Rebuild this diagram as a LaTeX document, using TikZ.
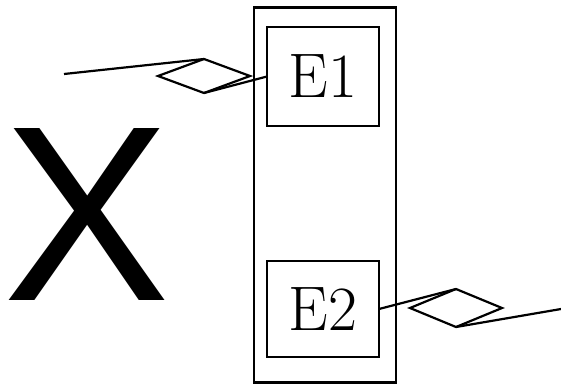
\documentclass[tikz,border=0pt]{standalone}
\usepackage{fontspec}
\usepackage{tikz}
\usetikzlibrary{shapes.geometric}
\newfontfamily\bigsans{Liberation Sans}
\tikzstyle{entity}=[draw, inner sep=0, outer sep=0, minimum width=112pt,
                    font=\fontsize{63}{70}\selectfont]
\tikzstyle{relation}=[draw, diamond, inner sep=0, outer sep=0, minimum width=92pt]
\tikzstyle{erdiagram}=[x=1pt, y=-1pt, line width=2.2pt,
                       % Keep the page at the size of the reference.
                       execute at begin picture={\useasboundingbox (0, 0) rectangle (561, 383);}]
\begin{document}
\begin{tikzpicture}[erdiagram]
        \node[font=\fontsize{250}{250}\selectfont\bigsans, inner sep=0] (X) at (87, 214) {X};
        \node[draw, inner sep=0, minimum width=142pt, minimum height=375pt] (group) at (325, 195) {};
        \node[entity, minimum height=99pt] (E1) at (323, 76.5) {E1};
        \node[entity, minimum height=96pt] (E2) at (323, 309) {E2};
        \node[relation, minimum height=34pt] (R1) at (204, 76) {};
        \node[relation, minimum height=38pt] (R2) at (456, 308) {};
        \coordinate (R1end) at (64, 74);
        \coordinate (R2end) at (561, 309);
        \draw (R1end) -- (R1.north);
        \draw (R1.south) -- (E1.west);
        \draw (E2.east) -- (R2.north);
        \draw (R2.south) -- (R2end);
    \end{tikzpicture}
\end{document}
